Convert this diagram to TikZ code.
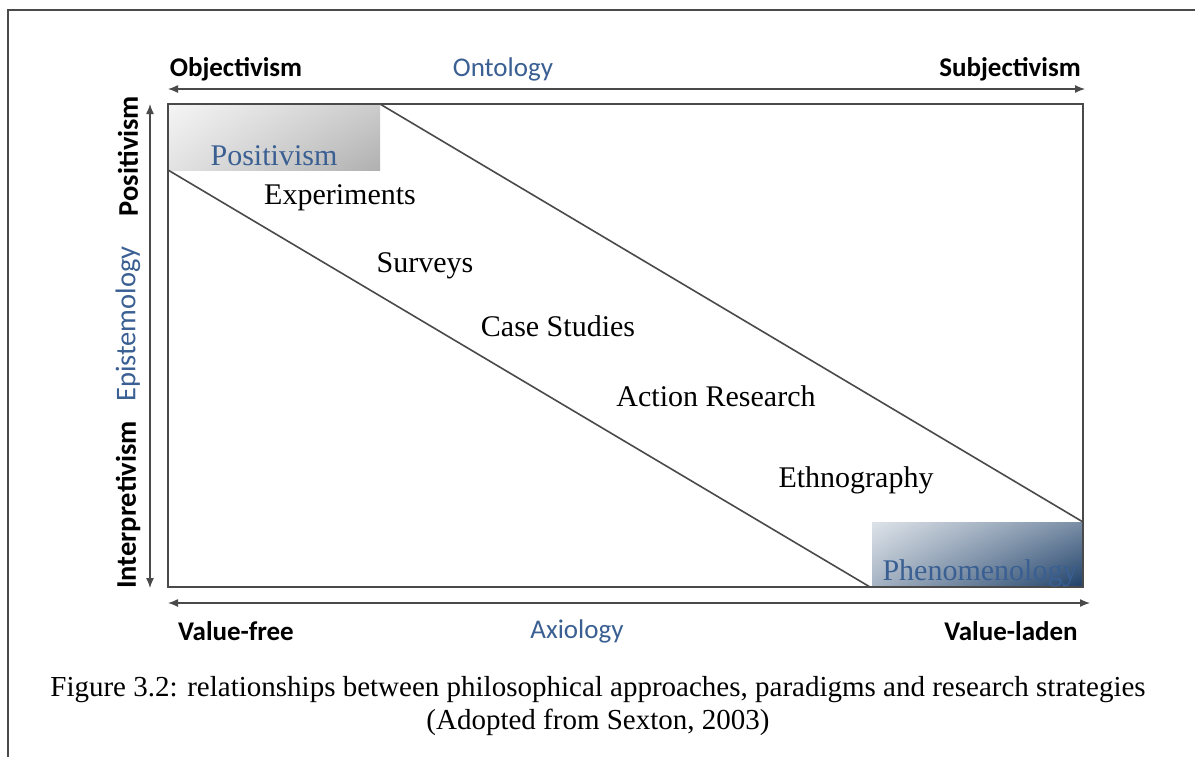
\documentclass[tikz,border=0pt]{standalone}
\usepackage{fontspec}
\setmainfont{Liberation Serif}
\newfontfamily\calib{Carlito}
\usetikzlibrary{arrows.meta,positioning,calc,shadings}
\definecolor{blu}{HTML}{3A5F92}
\definecolor{frm}{HTML}{4A4A4A}
\definecolor{nvy}{HTML}{1F4169}
\newcommand{\axfont}{\calib\fontsize{27}{30}\selectfont}
\newcommand{\vxfont}{\calib\fontsize{28.5}{30}\selectfont}
\newcommand{\stfont}{\fontsize{30}{34}\selectfont}
\newcommand{\capfont}{\fontsize{29}{34}\selectfont}

\begin{document}
\begin{tikzpicture}[x=1pt,y=-1pt,
  ax/.style={{Latex[length=10pt,width=8pt]}-{Latex[length=10pt,width=8pt]},line width=1.3pt,draw=frm},
  axlab/.style={font=\axfont\bfseries},
  axname/.style={font=\axfont,text=blu},
  strat/.style={font=\stfont},
  parad/.style={font=\stfont,text=blu}]
 \useasboundingbox (0,0) rectangle (1195,756);
 % corners of the grid
 \coordinate (tl) at (168,104); \coordinate (tr) at (1083,104);
 \coordinate (bl) at (168,587); \coordinate (br) at (1083,587);
 \coordinate (ua) at (380,104); \coordinate (ub) at (1083,522);
 \coordinate (la) at (168,170); \coordinate (lb) at (870,587);
 % outer frame
 \draw[line width=1.3pt,frm] (8,760)--(8,10)--(1200,10);
 % shaded corner boxes
 \shade[upper left=gray!8,upper right=gray!40,lower left=gray!22,lower right=gray!62] (tl) rectangle (380,170);
 \shade[upper left=nvy!15,upper right=nvy!60,lower left=nvy!40,lower right=nvy] (872,522) rectangle (br);
 \draw[line width=1.6pt,frm] (tl) rectangle (br);
 \draw[line width=1.6pt,frm] (ua)--(ub);
 \draw[line width=1.6pt,frm] (la)--(lb);
 % axes
 \coordinate (ox1) at (168,89); \coordinate (ox2) at (1085,89);
 \coordinate (ey1) at (150,104); \coordinate (ey2) at (150,588);
 \coordinate (ax1) at (168,603); \coordinate (ax2) at (1090,603);
 \draw[ax] (ox1)--(ox2);
 \draw[ax] (ey1)--(ey2);
 \draw[ax] (ax1)--(ax2);
 \node[axlab] (objv) at (236,69) {Objectivism};
 \node[axname] (onto) at (503,69) {Ontology};
 \node[axlab] (subj) at (1010,69) {Subjectivism};
 \node[axlab,font=\vxfont\bfseries,rotate=90] (posv) at (128,156) {Positivism};
 \node[axname,font=\vxfont,rotate=90] (epis) at (128,324) {Epistemology};
 \node[axlab,font=\vxfont\bfseries,rotate=90] (intp) at (128,505) {Interpretivism};
 \node[axlab] (vfree) at (236,631) {Value-free};
 \node[axname] (axio) at (577,631) {Axiology};
 \node[axlab] (vlad) at (1011,631) {Value-laden};
 % paradigms and strategies
 \node[parad] (pos) at (274,156) {Positivism};
 \node[strat] (exp) at (340,198) {Experiments};
 \node[strat] (sur) at (425,266) {Surveys};
 \node[strat] (cas) at (558,326) {Case Studies};
 \node[strat] (act) at (716,396) {Action Research};
 \node[strat] (eth) at (856,480) {Ethnography};
 \node[parad] (phe) at (980,573) {Phenomenology};
 % caption
 \node[font=\capfont] (cap1) at (598,690) {Figure 3.2: relationships between philosophical approaches, paradigms and research strategies};
 \node[font=\capfont] (cap2) at (598,722) {(Adopted from Sexton, 2003)};
\end{tikzpicture}
\end{document}
